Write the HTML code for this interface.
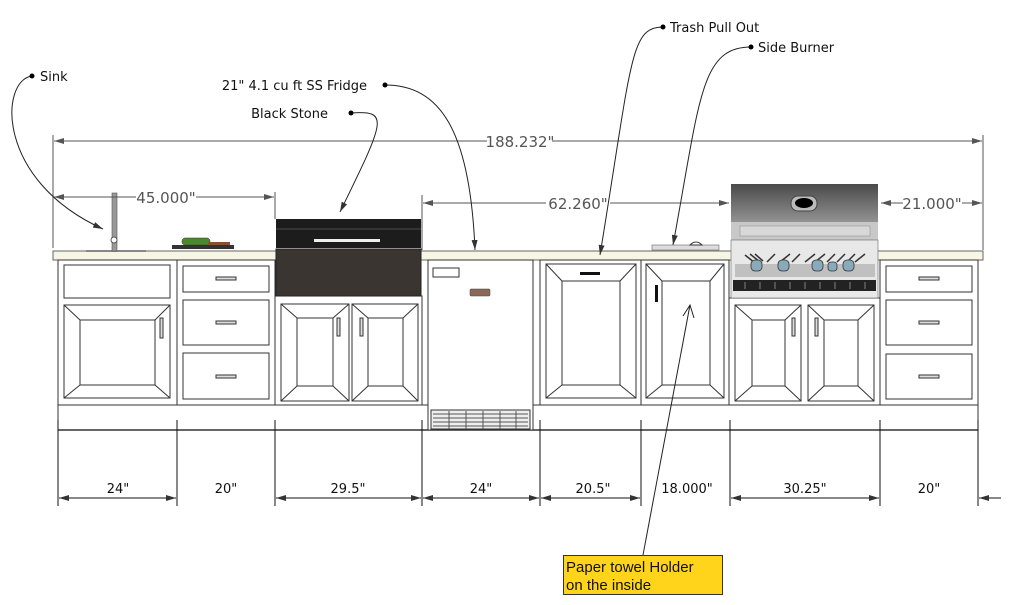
<!DOCTYPE html>
<html><head><meta charset="utf-8"><style>
html,body{margin:0;padding:0;background:#fff;}
svg{display:block;font-family:"DejaVu Sans","Liberation Sans",sans-serif;}
</style></head><body>
<svg width="1012" height="605" viewBox="0 0 1012 605" xmlns="http://www.w3.org/2000/svg">
<defs>
<marker id="a" viewBox="0 0 10 6" refX="10" refY="3" markerWidth="10" markerHeight="6" orient="auto-start-reverse" markerUnits="userSpaceOnUse"><path d="M0,0L10,3L0,6z" fill="#333"/></marker>
<marker id="b" viewBox="0 0 10 6" refX="10" refY="3" markerWidth="12" markerHeight="6" orient="auto-start-reverse" markerUnits="userSpaceOnUse"><path d="M0,0L10,3L0,6z" fill="#555"/></marker>
<linearGradient id="hood" x1="0" y1="0" x2="0" y2="1"><stop offset="0" stop-color="#4a4a4a"/><stop offset="1" stop-color="#9a9a9a"/></linearGradient>
</defs>

<!-- countertop -->
<rect x="53" y="251" width="930" height="9" fill="#f7f5e4" stroke="#666" stroke-width="1"/>
<!-- toe kick -->
<rect x="58" y="405" width="920" height="25" fill="#fff" stroke="#333" stroke-width="1"/>
<line x1="58" y1="430" x2="978" y2="430" stroke="#333" stroke-width="1.5"/>

<g fill="#fff" stroke="#333" stroke-width="1">
<!-- cabinet bodies -->
<rect x="58" y="260" width="119" height="145"/>
<rect x="177" y="260" width="98" height="145"/>
<rect x="275" y="296" width="147" height="109"/>
<rect x="540" y="260" width="101" height="145"/>
<rect x="641" y="260" width="88" height="145"/>
<rect x="729" y="298" width="151" height="107"/>
<rect x="880" y="260" width="98" height="145"/>

<!-- sink cab -->
<rect x="64" y="265" width="106" height="33"/>
<rect x="64" y="305" width="106" height="93"/>
<rect x="80" y="320" width="75" height="65"/>
<path d="M64,305L80,320M170,305L155,320M64,398L80,385M170,398L155,385"/>
<rect x="160" y="318" width="3" height="20" fill="#ddd"/>
<!-- drawers cab -->
<rect x="183" y="266" width="86" height="26"/>
<rect x="183" y="300" width="86" height="45"/>
<rect x="183" y="353" width="86" height="46"/>
<rect x="216" y="277" width="20" height="3" fill="#ddd"/>
<rect x="216" y="321" width="20" height="3" fill="#ddd"/>
<rect x="216" y="375" width="20" height="3" fill="#ddd"/>
<!-- under griddle doors -->
<rect x="281" y="304" width="68" height="97"/>
<rect x="297" y="318" width="36" height="68"/>
<path d="M281,304L297,318M349,304L333,318M281,401L297,386M349,401L333,386"/>
<rect x="352" y="304" width="66" height="97"/>
<rect x="368" y="318" width="35" height="68"/>
<path d="M352,304L368,318M418,304L403,318M352,401L368,386M418,401L403,386"/>
<rect x="337" y="318" width="3" height="18" fill="#ddd"/>
<rect x="360" y="318" width="3" height="18" fill="#ddd"/>
<!-- trash -->
<rect x="546" y="264" width="90" height="134"/>
<rect x="562" y="281" width="58" height="104"/>
<path d="M546,264L562,281M636,264L620,281M546,398L562,385M636,398L620,385"/>
<!-- paper towel -->
<rect x="646" y="264" width="78" height="134"/>
<rect x="662" y="281" width="48" height="104"/>
<path d="M646,264L662,281M724,264L710,281M646,398L662,385M724,398L710,385"/>
<!-- grill doors -->
<rect x="735" y="305" width="66" height="96"/>
<rect x="752" y="320" width="33" height="66"/>
<path d="M735,305L752,320M801,305L785,320M735,401L752,386M801,401L785,386"/>
<rect x="808" y="305" width="66" height="96"/>
<rect x="824" y="320" width="34" height="66"/>
<path d="M808,305L824,320M874,305L858,320M808,401L824,386M874,401L858,386"/>
<rect x="792" y="318" width="3" height="18" fill="#ddd"/>
<rect x="815" y="318" width="3" height="18" fill="#ddd"/>
<!-- right drawers -->
<rect x="886" y="266" width="86" height="26"/>
<rect x="886" y="300" width="86" height="45"/>
<rect x="886" y="354" width="86" height="45"/>
<rect x="919" y="277" width="20" height="3" fill="#ddd"/>
<rect x="919" y="321" width="20" height="3" fill="#ddd"/>
<rect x="919" y="375" width="20" height="3" fill="#ddd"/>
<!-- fridge -->
<rect x="428" y="260" width="105" height="170"/>
<rect x="433" y="268" width="26" height="9"/>
<rect x="431" y="410" width="99" height="19" fill="#eee"/>
</g>
<rect x="580" y="272" width="20" height="3" fill="#111"/>
<rect x="655" y="285" width="3" height="17" fill="#111"/>
<rect x="470" y="289" width="20" height="7" rx="1" fill="#8b6858" stroke="#444" stroke-width="0.5"/>
<g stroke="#555" stroke-width="1">
<path d="M433,414H528M433,418H528M433,422H528M433,426H528"/>
<path d="M449,411V429M466,411V429M483,411V429M500,411V429M516,411V429"/>
</g>

<!-- sink faucet -->
<rect x="86" y="250" width="60" height="2" fill="#888"/>
<rect x="112" y="193" width="5" height="58" fill="#999" stroke="#555" stroke-width="0.6"/>
<circle cx="114" cy="240" r="3" fill="#fff" stroke="#555"/>
<!-- cutting board -->
<rect x="172" y="245" width="62" height="4" fill="#333"/>
<rect x="182" y="238" width="28" height="7" rx="3" fill="#4a8a2a" stroke="#333" stroke-width="0.5"/>
<rect x="208" y="242" width="22" height="3" fill="#8a5030"/>

<!-- griddle -->
<rect x="276" y="219" width="145" height="29" fill="#1c1c1c"/>
<rect x="276" y="228" width="145" height="2" fill="#333"/>
<rect x="314" y="239" width="66" height="3" fill="#eee"/>
<rect x="276" y="249" width="145" height="47" fill="#3b3531" stroke="#222"/>

<!-- side burner -->
<rect x="652" y="245" width="67" height="5" fill="#ddd" stroke="#666" stroke-width="0.6"/>
<path d="M690,245q6,-6 12,0z" fill="#fff" stroke="#333"/>

<!-- grill -->
<rect x="731" y="184" width="147" height="42" fill="url(#hood)"/>
<rect x="731" y="222" width="147" height="18" fill="#c8c8c8"/>
<rect x="740" y="226" width="130" height="10" fill="#d8d8d8" stroke="#888" stroke-width="0.5"/>
<rect x="791" y="196" width="26" height="15" rx="7" fill="#bbb" stroke="#444"/>
<ellipse cx="804" cy="203" rx="9" ry="5" fill="#000"/>
<rect x="731" y="240" width="147" height="58" fill="#e8e8e8" stroke="#666" stroke-width="0.6"/>
<rect x="735" y="264" width="140" height="13" fill="#c0c0c0"/>
<g stroke="#333" stroke-width="1.5">
<path d="M745,255l10,8M750,254l10,8M755,254l8,7M775,254l-8,8M790,254l-10,8M800,254l-8,8M815,254l-10,8M825,254l-10,8M835,254l-8,8M845,254l-8,8M855,254l-8,8M865,254l-10,8"/>
</g>
<g fill="#8ab" stroke="#333" stroke-width="0.8">
<rect x="751" y="260" width="11" height="11" rx="4"/>
<rect x="778" y="260" width="11" height="11" rx="4"/>
<rect x="812" y="260" width="11" height="11" rx="4"/>
<rect x="828" y="262" width="9" height="9" rx="3"/>
<rect x="843" y="260" width="11" height="11" rx="4"/>
</g>
<rect x="733" y="280" width="143" height="11" fill="#222"/>
<g stroke="#999" stroke-width="0.8"><path d="M745,282v7M760,282v7M775,282v7M790,282v7M805,282v7M820,282v7M835,282v7M850,282v7M865,282v7"/></g>

<!-- dimension lines top -->
<g stroke="#555" stroke-width="1" fill="none">
<line x1="53" y1="135" x2="53" y2="248"/>
<line x1="983" y1="135" x2="983" y2="250"/>
<line x1="54" y1="141" x2="487" y2="141" marker-start="url(#b)"/>
<line x1="552" y1="141" x2="982" y2="141" marker-end="url(#b)"/>
<line x1="275" y1="192" x2="275" y2="219"/>
<line x1="54" y1="197" x2="136" y2="197" marker-start="url(#b)"/>
<line x1="196" y1="197" x2="274" y2="197" marker-end="url(#b)"/>
<line x1="422" y1="195" x2="422" y2="250"/>
<line x1="423" y1="203" x2="546" y2="203" marker-start="url(#b)"/>
<line x1="610" y1="203" x2="729" y2="203" marker-end="url(#b)"/>
<line x1="881" y1="203" x2="903" y2="203" marker-start="url(#b)"/>
<line x1="962" y1="203" x2="982" y2="203" marker-end="url(#b)"/>
</g>
<g fill="#555" font-size="15" text-anchor="middle">
<text x="520" y="147">188.232"</text>
<text x="166" y="203">45.000"</text>
<text x="578" y="209">62.260"</text>
<text x="932" y="209">21.000"</text>
</g>

<!-- bottom dims -->
<g stroke="#111" stroke-width="1" fill="none">
<path d="M58,420V506M177,420V506M275,420V506M422,420V506M540,420V506M641,420V506M730,420V506M880,420V506M978,420V506"/>
<line x1="59" y1="498" x2="176" y2="498" marker-start="url(#a)" marker-end="url(#a)"/>
<line x1="276" y1="498" x2="421" y2="498" marker-start="url(#a)" marker-end="url(#a)"/>
<line x1="423" y1="498" x2="539" y2="498" marker-start="url(#a)" marker-end="url(#a)"/>
<line x1="541" y1="498" x2="640" y2="498" marker-start="url(#a)" marker-end="url(#a)"/>
<line x1="731" y1="498" x2="879" y2="498" marker-start="url(#a)" marker-end="url(#a)"/>
<line x1="1001" y1="498" x2="979" y2="498" marker-end="url(#a)"/>
</g>
<g fill="#111" font-size="13" text-anchor="middle">
<text x="118" y="493">24"</text>
<text x="226" y="493">20"</text>
<text x="348" y="493">29.5"</text>
<text x="481" y="493">24"</text>
<text x="593" y="493">20.5"</text>
<text x="687" y="493">18.000"</text>
<text x="805" y="493">30.25"</text>
<text x="929" y="493">20"</text>
</g>

<!-- callouts -->
<g stroke="#222" stroke-width="1" fill="none">
<path d="M32,76C0,80 -5,180 103,229" marker-end="url(#a)"/>
<path d="M385,85C440,85 470,130 475,250" marker-end="url(#a)"/>
<path d="M351,113C390,110 385,120 340,212" marker-end="url(#a)"/>
<path d="M663,27C630,27 632,60 600,255" marker-end="url(#a)"/>
<path d="M751,47C700,47 700,100 673,245" marker-end="url(#a)"/>
<path d="M643,555L690,305"/>
<path d="M683,316L690,305L694,318"/>
</g>
<g fill="#000"><circle cx="32" cy="76" r="2.5"/><circle cx="385" cy="85" r="2.5"/><circle cx="351" cy="113" r="2.5"/><circle cx="663" cy="27" r="2.5"/><circle cx="751" cy="47" r="2.5"/></g>
<g fill="#111" font-size="13">
<text x="40" y="81">Sink</text>
<text x="367" y="90" text-anchor="end">21" 4.1 cu ft SS Fridge</text>
<text x="328" y="118" text-anchor="end">Black Stone</text>
<text x="670" y="32">Trash Pull Out</text>
<text x="758" y="52">Side Burner</text>
</g>
<rect x="563.5" y="555.5" width="159" height="39" fill="#ffd41a" stroke="#333"/>
<g font-family="Liberation Sans,sans-serif" font-size="15" fill="#111">
<text x="566" y="572">Paper towel Holder</text>
<text x="566" y="590">on the inside</text>
</g>
</svg>
</body></html>
